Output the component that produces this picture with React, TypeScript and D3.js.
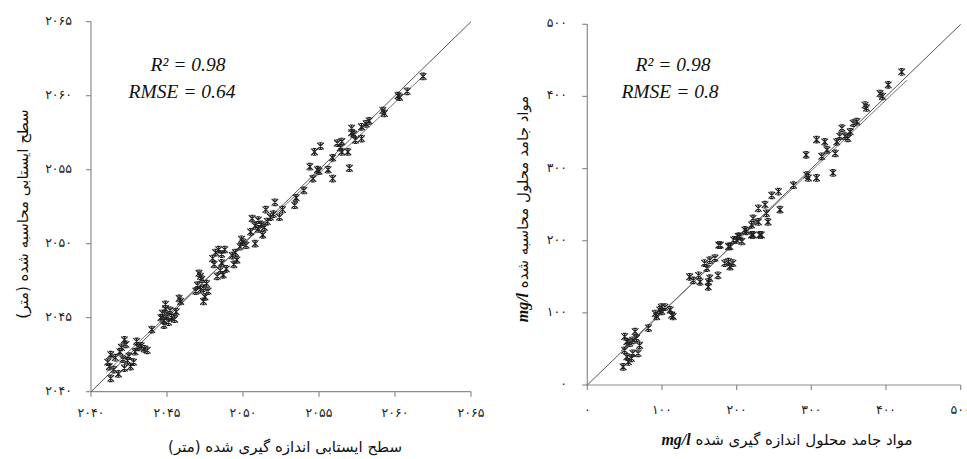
import React from "react";
import * as d3 from "d3";

// ---------- DATA ----------
const leftTicks = [2040, 2045, 2050, 2055, 2060, 2065];
const rightTicks = [0, 100, 200, 300, 400, 500];

// Water table level: measured vs computed (m)
const leftMeasured = [
  2041.3, 2041.2, 2041.1, 2041.3, 2041.6, 2041.5, 2041.9, 2042.0, 2042.2, 2042.3, 2042.1, 2042.4,
  2042.6, 2042.5, 2042.8, 2043.0, 2043.1, 2042.9, 2043.3, 2043.7, 2043.5, 2041.8, 2042.2,
  2044.0,
  2044.7, 2044.8, 2044.6, 2044.9, 2045.0, 2044.8, 2045.1, 2045.3, 2045.5, 2045.6, 2045.2, 2044.9, 2045.8, 2045.9,
  2047.0, 2047.2, 2047.4, 2047.6, 2047.3, 2047.1, 2047.5, 2047.4, 2047.7, 2047.2, 2046.9,
  2048.0, 2048.2, 2048.4, 2048.6, 2048.8, 2048.1, 2048.5, 2048.7, 2048.9, 2048.6, 2048.3,
  2049.3, 2049.5, 2049.6, 2049.8, 2050.0, 2050.2, 2049.4, 2049.9, 2050.8,
  2050.5, 2050.8, 2051.0, 2051.2, 2051.4, 2051.0, 2050.6, 2051.6, 2051.8, 2052.0, 2051.3, 2052.1, 2051.5, 2052.4, 2052.6,
  2053.4, 2053.5, 2054.0, 2054.4, 2054.6, 2055.6, 2055.9, 2057.0, 2054.7, 2055.1, 2055.9, 2056.2, 2056.5, 2056.9,
  2057.15, 2057.4, 2057.15, 2057.8, 2057.8, 2056.5, 2055.0, 2054.9,
  2058.1, 2058.3, 2059.2, 2059.3, 2060.3, 2060.2, 2060.8, 2061.85, 2057.3, 2056.4,
];
const leftComputed = [
  2040.9, 2041.7, 2042.0, 2042.5, 2042.3, 2041.5, 2042.7, 2043.0, 2043.5, 2043.2, 2042.2, 2042.1,
  2041.7, 2042.4, 2042.0, 2043.4, 2043.0, 2042.7, 2043.1, 2042.8, 2042.9, 2041.2, 2041.6,
  2044.2,
  2045.3, 2044.8, 2045.0, 2045.6, 2045.1, 2044.5, 2044.7, 2045.0, 2044.9, 2045.4, 2045.5, 2045.9, 2046.3, 2046.1,
  2047.2, 2046.9, 2047.0, 2047.3, 2047.6, 2048.0, 2046.4, 2046.1, 2046.8, 2047.8, 2046.8,
  2049.0, 2049.4, 2049.6, 2049.3, 2049.6, 2048.6, 2048.2, 2047.9, 2048.3, 2048.7, 2047.8,
  2049.2, 2049.4, 2048.9, 2049.8, 2050.1, 2049.9, 2048.6, 2050.3, 2050.0,
  2050.8, 2051.2, 2051.0, 2051.3, 2051.1, 2051.6, 2051.7, 2051.5, 2051.8, 2052.0, 2050.6, 2052.8, 2052.3, 2051.8, 2052.3,
  2052.6, 2053.1, 2053.6, 2055.2, 2054.4, 2055.0, 2054.4, 2055.1, 2056.2, 2056.6, 2055.8, 2056.8, 2056.9, 2056.2,
  2057.5, 2057.0, 2057.8, 2057.1, 2057.9, 2056.2, 2054.9, 2055.0,
  2058.1, 2058.3, 2059.0, 2058.8, 2059.9, 2060.0, 2060.3, 2061.3, 2057.4, 2056.5,
];

// TDS: measured vs computed (mg/l)
const rightMeasured = [
  48, 53, 61, 68, 50, 55, 59, 64, 50, 53, 57, 61, 66, 70, 82,
  93, 91, 97, 104, 111, 113, 115, 99, 100,
  137, 142, 151, 149, 162, 164, 160, 157, 164, 171, 175, 162, 189, 195, 191, 184,
  176, 189, 200, 204, 211, 222, 233, 178, 191, 196, 202, 207, 213, 220, 220, 231, 222, 229, 242,
  229, 238, 240, 258, 247, 256, 276, 294, 296, 307, 329, 293, 314, 332, 321, 307, 318, 334, 338,
  341, 349, 352, 345, 356, 361, 374, 372, 392, 395, 403, 421,
];
const rightComputed = [
  25, 39, 44, 44, 48, 32, 37, 74, 67, 60, 58, 62, 65, 55, 79,
  95, 99, 104, 108, 104, 97, 95, 108, 102,
  150, 145, 143, 152, 143, 148, 162, 169, 173, 176, 152, 136, 171, 169, 164, 169,
  194, 192, 201, 206, 215, 208, 208, 194, 192, 201, 206, 199, 213, 222, 208, 208, 231, 226, 226,
  245, 250, 238, 243, 263, 268, 277, 291, 287, 287, 294, 319, 317, 321, 326, 340, 337, 337, 345,
  356, 342, 351, 345, 363, 365, 384, 388, 404, 400, 416, 434,
];

// ---------- HELPERS ----------
const faDigits = "۰۱۲۳۴۵۶۷۸۹";
const toFa = (n: number) => String(n).replace(/\d/g, (d) => faDigits[+d]);

const markerPath = (r: number) =>
  `M${-r},${-r}L${r},${r}M${-r},${r}L${r},${-r}M0,${-r}L0,${r}M${-r * 0.55},${-r}L${r * 0.55},${-r}M${-r * 0.55},${r}L${r * 0.55},${r}`;

type PanelProps = {
  x0: number; x1: number; y0: number; y1: number;
  domain: [number, number];
  ticks: number[];
  xs: number[]; ys: number[];
  reg: [number, number, number, number];
  r2: string; rmse: string;
  annX: number; annX2: number;
  yLabelX: number; xLabelY: number;
  xTitle: React.ReactNode; yTitle: React.ReactNode;
  xTitleX: number; xTitleY: number; yTitleX: number; yTitleY: number;
};

function Panel(p: PanelProps) {
  const x = d3.scaleLinear().domain(p.domain).range([p.x0, p.x1]);
  const y = d3.scaleLinear().domain(p.domain).range([p.y0, p.y1]);
  const n = Math.min(p.xs.length, p.ys.length);
  const pts = d3.range(n).map((i) => [p.xs[i], p.ys[i]]);
  const [m, c, f, t] = p.reg;
  const line = d3.line<number>().x((v) => x(v)).y((v) => y(m * v + c));
  const ident = d3.line<number>().x((v) => x(v)).y((v) => y(v));
  const axisColor = "#8c8c8c";
  const faFont = "'DejaVu Sans', sans-serif";
  return (
    <g>
      <line x1={x(p.domain[0])} x2={x(p.domain[0])} y1={y(p.domain[0])} y2={y(p.domain[1])} stroke={axisColor} strokeWidth={1.2} />
      <line x1={x(p.domain[0])} x2={x(p.domain[1])} y1={y(p.domain[0])} y2={y(p.domain[0])} stroke={axisColor} strokeWidth={1.2} />
      {p.ticks.map((tv) => (
        <g key={"yt" + tv}>
          <line x1={x(p.domain[0]) - 5} x2={x(p.domain[0])} y1={y(tv)} y2={y(tv)} stroke={axisColor} strokeWidth={1.2} />
          <text x={p.yLabelX} y={y(tv) + 3} textAnchor="end" fontSize={12.5} fontFamily={faFont} fill="#222">{toFa(tv)}</text>
        </g>
      ))}
      {p.ticks.map((tv) => (
        <g key={"xt" + tv}>
          <line x1={x(tv)} x2={x(tv)} y1={y(p.domain[0])} y2={y(p.domain[0]) + 5} stroke={axisColor} strokeWidth={1.2} />
          <text x={x(tv)} y={p.xLabelY} textAnchor="middle" fontSize={12.5} fontFamily={faFont} fill="#222">{toFa(tv)}</text>
        </g>
      ))}
      <path d={ident(p.domain) || ""} fill="none" stroke="#555" strokeWidth={1} />
      <path d={line([f, t]) || ""} fill="none" stroke="#777" strokeWidth={1} />
      {pts.map((d, i) => (
        <path key={i} d={markerPath(3.3)} transform={`translate(${x(d[0])},${y(d[1])})`} fill="none" stroke="#222" strokeWidth={1.15} />
      ))}
      <text x={p.annX} y={71} textAnchor="middle" fontSize={19.5} fontStyle="italic" fontFamily="'Liberation Serif', serif" fill="#111">
        R² = {p.r2}
      </text>
      <text x={p.annX2} y={98} textAnchor="middle" fontSize={19.5} fontStyle="italic" fontFamily="'Liberation Serif', serif" fill="#111">
        RMSE = {p.rmse}
      </text>
      <text x={p.xTitleX} y={p.xTitleY} textAnchor="middle" fontSize={15} fontFamily={faFont} fill="#111" style={{ direction: "rtl" }}>
        {p.xTitle}
      </text>
      <text transform={`translate(${p.yTitleX},${p.yTitleY}) rotate(-90)`} textAnchor="middle" fontSize={15} fontFamily={faFont} fill="#111" style={{ direction: "rtl" }}>
        {p.yTitle}
      </text>
    </g>
  );
}

export default function App() {
  const mgl = (
    <tspan fontFamily="'Liberation Serif', serif" fontStyle="italic" fontWeight="bold" fontSize={16}>mg/l</tspan>
  );
  return (
    <svg width={967} height={459} style={{ position: "absolute", left: 0, top: 0, background: "#fff" }}>
      <rect width={967} height={459} fill="#fff" />
      <Panel
        x0={91} x1={471} y0={391.7} y1={21.7}
        domain={[2040, 2065]} ticks={leftTicks}
        xs={leftMeasured} ys={leftComputed}
        reg={[0.96, 81.94, 2041, 2062]}
        r2="0.98" rmse="0.64" annX={188} annX2={182}
        yLabelX={72} xLabelY={417}
        xTitle={"سطح ایستابی اندازه گیری شده (متر)"}
        yTitle={"سطح ایستابی محاسبه شده (متر)"}
        xTitleX={285} xTitleY={452} yTitleX={28} yTitleY={214}
      />
      <Panel
        x0={587.3} x1={960.7} y0={385} y1={24.3}
        domain={[0, 500]} ticks={rightTicks}
        xs={rightMeasured} ys={rightComputed}
        reg={[0.98, 3, 45, 428]}
        r2="0.98" rmse="0.8" annX={673} annX2={670}
        yLabelX={567} xLabelY={414}
        xTitle={<>{"مواد جامد محلول اندازه گیری شده "}{mgl}</>}
        yTitle={<>{"مواد جامد محلول محاسبه شده "}{mgl}</>}
        xTitleX={787} xTitleY={445} yTitleX={528} yTitleY={209}
      />
    </svg>
  );
}
